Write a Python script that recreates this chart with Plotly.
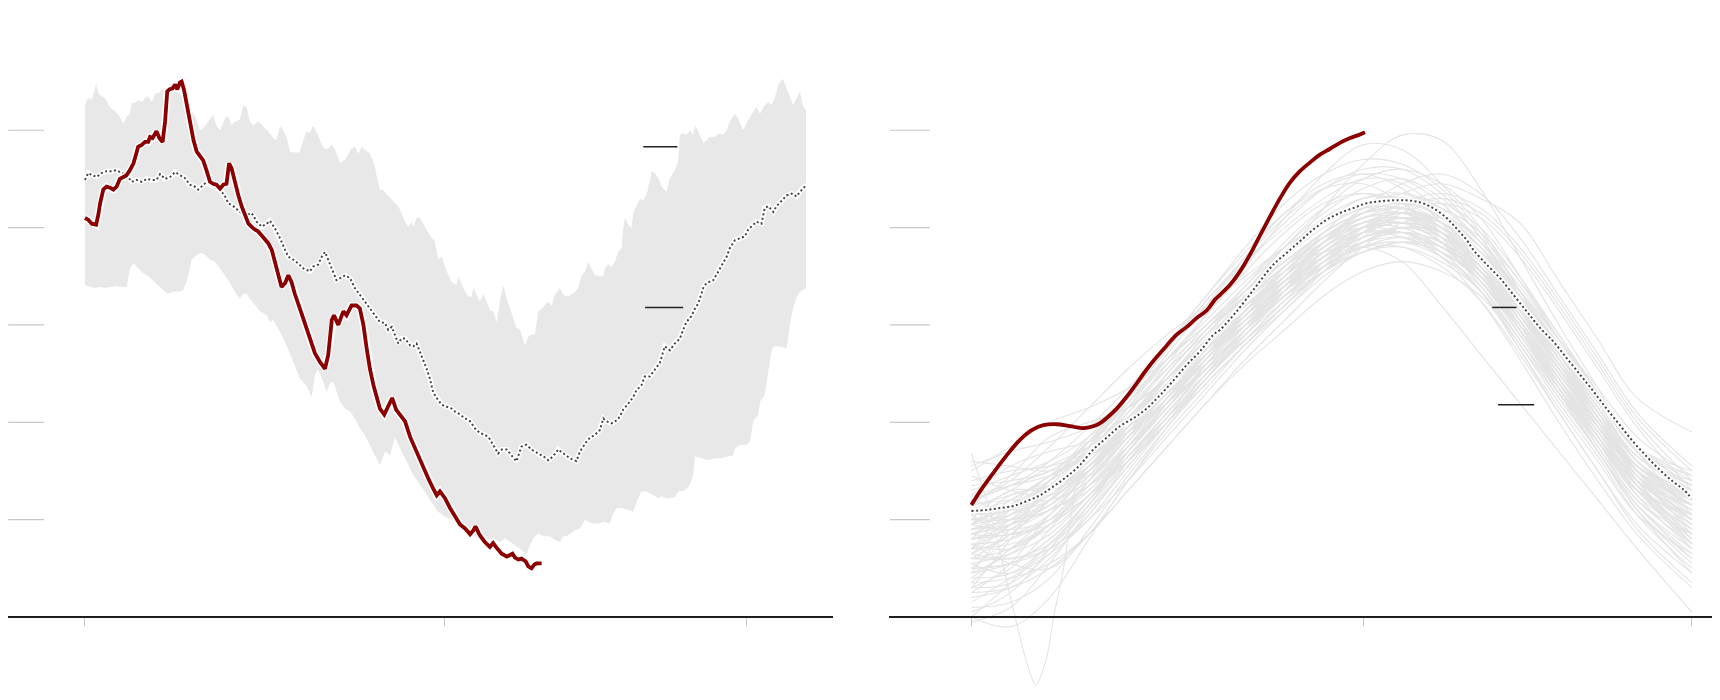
import plotly.graph_objects as go

# ---------------- LEFT PANEL DATA (day, value) ----------------
band_upper = [(0.0,5.26),(0.9,5.33),(1.9,5.31),(3.1,5.48),(3.7,5.38),(4.6,5.35),(5.6,5.33),(7.0,5.23),(7.9,5.21),(9.3,5.16),
 (10.7,5.07),(11.6,5.14),(12.5,5.17),(13.0,5.28),(13.9,5.28),(14.8,5.31),(15.8,5.29),(16.7,5.33),(17.6,5.35),(18.6,5.29),
 (19.5,5.38),(20.4,5.38),(21.3,5.41),(22.3,5.43),(23.2,5.43),(24.6,5.41),(26.4,5.38),(28.3,5.29),(30.2,5.17),(31.1,5.11),
 (32.0,5.00),(32.9,5.02),(34.3,5.09),(35.7,5.16),(36.6,5.05),(37.6,5.00),(39.0,5.12),(39.9,5.14),(40.8,5.05),(41.7,5.09),
 (43.1,5.11),(44.1,5.26),(45.0,5.23),(45.9,5.09),(46.9,5.05),(48.2,5.09),(49.6,5.04),(51.0,4.99),(52.4,4.92),(53.3,4.90),
 (54.3,5.04),(55.2,5.00),(56.1,4.93),(57.1,4.78),(58.9,4.77),(59.8,4.78),(60.8,4.90),(61.7,4.99),(62.6,4.97),(63.5,5.05),
 (64.9,4.95),(65.9,4.85),(66.8,4.81),(67.7,4.81),(68.7,4.85),(69.6,4.80),(71.0,4.66),(72.4,4.70),(74.2,4.81),(75.1,4.83),
 (76.1,4.76),(77.0,4.83),(77.9,4.80),(79.3,4.76),(80.3,4.68),(81.2,4.54),(82.1,4.39),(83.0,4.39),(84.0,4.34),(85.8,4.27),
 (87.2,4.22),(88.1,4.15),(89.1,4.06),(90.0,4.01),(90.9,4.06),(91.4,4.01),(92.3,4.10),(93.2,4.10),(94.2,4.04),(95.1,3.98),
 (96.0,3.92),(97.4,3.86),(98.3,3.68),(99.3,3.70),(100.7,3.55),(102.1,3.44),(103.4,3.41),(103.9,3.50),(104.8,3.43),(105.8,3.34),
 (106.7,3.29),(107.6,3.29),(108.1,3.38),(109.0,3.31),(109.9,3.24),(110.9,3.32),(111.8,3.24),(112.7,3.15),(113.6,3.14),(114.6,3.03),
 (115.5,3.24),(116.4,3.41),(117.4,3.27),(118.3,3.17),(119.2,3.07),(120.1,2.97),(121.1,2.95),(122.0,2.86),(122.5,2.79),(123.4,2.88),
 (124.3,2.90),(125.2,2.90),(126.2,3.14),(127.1,3.17),(128.0,3.20),(129.0,3.24),(129.9,3.20),(130.8,3.31),(132.2,3.38),(133.1,3.31),
 (134.5,3.29),(135.4,3.31),(136.4,3.34),(137.3,3.38),(138.2,3.51),(139.2,3.55),(140.1,3.65),(141.0,3.58),(141.9,3.51),(143.3,3.50),
 (144.3,3.50),(144.7,3.58),(145.6,3.62),(146.6,3.60),(147.5,3.65),(148.4,3.75),(149.4,3.79),(149.8,3.99),(150.3,4.10),(151.2,4.03),
 (152.1,3.99),(152.6,4.15),(153.5,4.23),(154.5,4.30),(155.4,4.28),(156.3,4.34),(157.2,4.47),(157.7,4.58),(158.6,4.56),(159.6,4.51),
 (160.5,4.42),(161.9,4.37),(162.8,4.51),(164.2,4.59),(165.1,4.68),(165.6,4.95),(166.5,4.97),(167.4,4.95),(168.4,5.00),(169.3,4.95),
 (169.8,5.05),(170.7,4.99),(172.1,4.87),(173.0,4.90),(173.9,4.93),(175.3,4.93),(176.7,4.97),(177.6,4.95),(178.6,5.00),(179.5,5.09),
 (180.9,5.17),(181.8,5.12),(183.2,5.00),(184.1,5.07),(185.1,5.14),(186.0,5.19),(186.9,5.24),(187.9,5.17),(188.8,5.24),(190.2,5.29),
 (191.1,5.26),(192.0,5.33),(193.0,5.47),(194.3,5.53),(195.3,5.43),(196.7,5.29),(197.1,5.26),(198.1,5.33),(199.0,5.40),(199.9,5.24),
 (200.7,5.21)]

band_lower = [(0.0,3.41),(1.4,3.39),(2.8,3.38),(4.2,3.39),(5.6,3.38),(7.0,3.39),(8.8,3.40),(10.7,3.39),(11.6,3.39),(12.5,3.58),
 (13.5,3.63),(14.8,3.58),(16.2,3.53),(17.6,3.50),(19.5,3.44),(20.9,3.39),(22.3,3.34),(23.2,3.32),(24.6,3.34),(26.4,3.34),
 (27.4,3.36),(28.8,3.51),(29.7,3.67),(31.1,3.72),(32.5,3.74),(33.4,3.72),(34.8,3.67),(36.2,3.65),(37.6,3.58),(39.0,3.51),
 (40.4,3.43),(41.7,3.34),(43.1,3.27),(44.1,3.32),(45.0,3.32),(45.9,3.27),(47.3,3.20),(48.7,3.14),(50.6,3.10),(51.5,3.03),
 (52.4,3.05),(54.3,2.93),(56.1,2.79),(58.0,2.62),(59.8,2.45),(61.7,2.37),(63.1,2.26),(64.0,2.49),(64.9,2.54),(66.3,2.42),
 (67.3,2.31),(68.2,2.40),(69.1,2.42),(70.0,2.31),(71.0,2.21),(72.4,2.14),(73.8,2.11),(75.1,2.04),(76.5,1.94),(77.9,1.87),
 (79.3,1.77),(80.7,1.66),(82.1,1.56),(83.5,1.70),(84.9,1.66),(86.3,1.85),(87.7,1.73),(89.5,1.60),(90.9,1.49),(92.8,1.39),
 (94.6,1.29),(96.5,1.18),(98.3,1.08),(100.2,1.03),(101.6,1.01),(103.0,0.98),(104.4,0.93),(106.2,0.88),(108.1,0.84),(109.9,0.79),
 (111.8,0.79),(113.6,0.81),(115.5,0.77),(116.9,0.81),(118.3,0.77),(119.7,0.74),(121.5,0.69),(122.9,0.64),(123.9,0.74),(124.8,0.81),
 (126.2,0.86),(127.1,0.84),(128.0,0.83),(129.4,0.83),(130.8,0.79),(132.2,0.77),(133.1,0.83),(134.1,0.83),(135.4,0.86),(136.4,0.89),
 (137.8,0.91),(139.2,1.00),(140.1,0.98),(141.5,0.96),(143.3,0.96),(144.3,0.98),(146.1,0.96),(147.0,1.06),(148.0,1.12),(149.4,1.12),
 (150.7,1.10),(152.6,1.08),(153.5,1.18),(154.9,1.29),(156.3,1.29),(158.2,1.25),(159.6,1.22),(160.5,1.24),(161.9,1.22),(164.2,1.23),
 (165.1,1.29),(167.0,1.30),(168.4,1.36),(169.3,1.46),(169.8,1.65),(171.6,1.63),(173.5,1.61),(175.3,1.63),(177.2,1.63),(179.0,1.65),
 (180.4,1.66),(180.9,1.73),(182.3,1.77),(184.1,1.77),(185.1,1.80),(186.0,2.01),(187.4,2.08),(187.9,2.21),(189.2,2.28),(189.7,2.42),
 (191.1,2.73),(191.6,2.78),(193.0,2.78),(195.3,2.76),(196.2,3.00),(197.1,3.17),(198.1,3.29),(199.0,3.34),(199.9,3.36),(200.7,3.38)]

median_left = [(0.0,4.49),(0.9,4.56),(1.9,4.54),(3.3,4.52),(4.6,4.56),(6.0,4.58),(7.4,4.58),(8.8,4.59),(10.2,4.56),(11.6,4.54),
 (13.0,4.47),(14.4,4.49),(15.8,4.47),(17.2,4.50),(18.6,4.49),(19.9,4.49),(20.9,4.55),(22.3,4.50),(23.7,4.52),(25.1,4.57),
 (26.4,4.54),(27.8,4.51),(29.2,4.44),(30.6,4.42),(31.5,4.39),(32.9,4.44),(33.9,4.47),(35.7,4.42),(37.6,4.39),(39.0,4.32),
 (39.9,4.25),(41.3,4.22),(43.1,4.16),(45.0,4.13),(46.4,4.15),(47.8,4.06),(49.2,4.01),(50.6,4.04),(51.5,4.07),(52.9,3.99),
 (54.3,3.89),(55.7,3.77),(56.6,3.70),(58.0,3.67),(59.4,3.63),(60.8,3.58),(62.6,3.55),(63.5,3.60),(64.9,3.62),(65.9,3.70),
 (66.8,3.75),(67.7,3.67),(69.1,3.53),(70.0,3.46),(71.0,3.48),(72.4,3.51),(73.8,3.48),(75.1,3.38),(76.5,3.31),(77.9,3.24),
 (79.3,3.17),(80.7,3.10),(82.1,3.03),(83.5,3.02),(84.4,2.95),(85.4,2.98),(86.3,2.90),(87.2,2.81),(88.1,2.86),(89.1,2.86),
 (90.5,2.79),(91.4,2.78),(92.3,2.81),(93.2,2.73),(94.2,2.64),(95.1,2.55),(96.0,2.45),(96.9,2.31),(97.9,2.25),(99.3,2.18),
 (100.7,2.16),(102.1,2.14),(103.0,2.11),(104.4,2.08),(105.8,2.04),(107.2,2.01),(108.5,1.94),(109.9,1.89),(111.3,1.87),(112.3,1.85),
 (113.6,1.77),(115.0,1.68),(116.0,1.72),(117.4,1.72),(118.7,1.66),(120.1,1.60),(121.5,1.75),(122.9,1.77),(124.3,1.72),(126.2,1.68),
 (127.6,1.65),(129.0,1.61),(130.3,1.65),(131.7,1.72),(133.1,1.68),(135.0,1.63),(136.8,1.60),(137.8,1.70),(139.2,1.78),(140.5,1.84),
 (141.9,1.87),(143.3,1.92),(144.3,2.04),(145.2,2.01),(146.6,1.99),(148.0,2.02),(148.9,2.06),(149.8,2.13),(151.2,2.19),(152.6,2.26),
 (153.5,2.33),(154.9,2.38),(155.8,2.47),(157.2,2.47),(158.6,2.54),(160.0,2.61),(161.4,2.78),(162.8,2.74),(164.2,2.81),(165.6,2.86),
 (166.5,2.95),(167.4,3.03),(168.8,3.09),(169.8,3.17),(170.7,3.22),(172.1,3.38),(173.0,3.43),(174.9,3.46),(176.3,3.55),(177.6,3.63),
 (178.6,3.70),(179.5,3.79),(180.9,3.87),(182.3,3.89),(183.7,3.91),(184.6,3.98),(186.0,4.03),(186.9,4.06),(188.3,4.04),(189.2,4.20),
 (190.2,4.22),(191.6,4.16),(192.5,4.22),(193.9,4.28),(195.3,4.33),(196.7,4.35),(198.1,4.32),(199.0,4.37),(199.9,4.40),(200.7,4.44)]

current_left = [(0.0,4.10),(0.9,4.08),(1.9,4.04),(3.1,4.03),(3.7,4.13),(4.2,4.25),(5.1,4.39),(6.0,4.42),(7.0,4.41),(7.9,4.39),
 (8.8,4.42),(9.7,4.50),(10.7,4.52),(11.6,4.54),(12.5,4.59),(13.5,4.66),(14.2,4.75),(14.8,4.83),(15.8,4.85),(16.7,4.88),
 (17.6,4.88),(18.1,4.93),(18.8,4.92),(19.5,4.96),(19.9,4.99),(20.7,4.92),(21.6,4.88),(22.3,5.09),(22.9,5.40),(23.5,5.42),
 (24.4,5.43),(25.1,5.47),(25.7,5.42),(26.4,5.49),(26.9,5.50),(27.6,5.41),(28.3,5.26),(29.2,5.09),(30.2,4.90),(31.1,4.78),
 (32.0,4.73),(32.9,4.69),(33.9,4.58),(34.8,4.47),(35.7,4.45),(36.6,4.44),(37.6,4.40),(38.5,4.44),(39.4,4.45),(40.1,4.66),
 (40.8,4.61),(41.7,4.47),(42.7,4.33),(43.6,4.22),(44.5,4.13),(45.5,4.04),(46.9,3.99),(48.2,3.96),(49.6,3.90),(51.0,3.84),
 (52.0,3.77),(52.9,3.65),(53.8,3.53),(54.7,3.39),(55.7,3.43),(56.6,3.51),(57.5,3.44),(58.4,3.32),(59.8,3.17),(61.2,3.02),
 (62.6,2.85),(64.0,2.71),(65.4,2.62),(66.8,2.55),(67.7,2.69),(68.7,3.05),(69.3,3.10),(70.5,3.00),(71.9,3.14),(72.8,3.10),
 (74.2,3.20),(75.6,3.20),(76.5,3.17),(77.5,3.00),(78.4,2.76),(79.3,2.55),(80.3,2.38),(81.2,2.25),(82.1,2.14),(83.3,2.08),
 (84.4,2.16),(85.5,2.25),(86.6,2.13),(87.7,2.08),(89.1,2.01),(90.5,1.85),(91.4,1.77),(92.8,1.66),(94.2,1.54),(95.6,1.42),
 (96.9,1.32),(97.9,1.25),(98.8,1.29),(100.2,1.22),(101.6,1.12),(103.0,1.03),(104.4,0.95),(105.8,0.91),(107.2,0.85),(108.1,0.89),
 (108.7,0.93),(109.9,0.84),(111.3,0.77),(112.7,0.72),(113.6,0.76),(114.6,0.71),(116.0,0.65),(117.4,0.62),(118.3,0.64),(119.0,0.65),
 (119.7,0.61),(120.6,0.59),(121.5,0.60),(122.0,0.59),(122.7,0.57),(123.4,0.52),(124.3,0.50),(125.1,0.54),(125.7,0.55),(127.1,0.55)]

left_labels_lines = [((155.4, 164.9), 4.83), ((155.9, 166.5), 3.18)]

# ---------------- RIGHT PANEL DATA ----------------
current_right = [(0,1.15),(2.2,1.29),(5.6,1.48),(9.0,1.66),(12.4,1.82),(15.4,1.92),(18.4,1.97),(21.8,1.98),(25.2,1.96),(28.6,1.94),
 (31.1,1.96),(32.8,1.99),(35.0,2.06),(37.1,2.14),(39.6,2.26),(42.2,2.40),(44.7,2.54),(47.3,2.67),(49.9,2.79),(52.4,2.90),
 (55.0,2.98),(57.5,3.07),(60.1,3.15),(62.2,3.26),(63.5,3.31),(66.0,3.41),(68.6,3.55),(71.1,3.72),(73.7,3.92),(76.2,4.11),
 (78.8,4.30),(81.3,4.46),(83.9,4.58),(86.5,4.67),(89.0,4.75),(91.6,4.81),(94.1,4.87),(96.7,4.92),(98.8,4.95),(100.5,4.98)]

mean_right = [(0,1.09),(3.9,1.10),(7.3,1.12),(10.7,1.14),(14.1,1.19),(17.5,1.25),(20.9,1.34),(24.3,1.44),(27.7,1.56),(31.1,1.72),
 (34.5,1.84),(37.9,1.96),(41.3,2.04),(44.7,2.14),(48.2,2.28),(51.6,2.43),(55.0,2.59),(58.4,2.73),(61.8,2.90),(63.5,2.95),
 (66.9,3.10),(70.3,3.27),(73.7,3.45),(77.1,3.62),(80.5,3.74),(83.9,3.86),(87.3,3.98),(90.7,4.08),(94.1,4.15),(97.5,4.20),
 (100.9,4.25),(104.3,4.27),(107.7,4.28),(111.1,4.28),(114.5,4.26),(117.9,4.20),(121.3,4.10),(123.9,3.99),(126.5,3.87),(128.2,3.77),
 (131.6,3.62),(135.0,3.48),(138.4,3.31),(141.8,3.14),(145.2,2.97),(148.6,2.83),(152.0,2.66),(155.4,2.49),(158.8,2.32),(162.2,2.14),
 (165.6,1.97),(169.0,1.80),(172.4,1.65),(175.8,1.51),(179.2,1.39),(181.8,1.31),(183.9,1.22)]

past_days = [0,10,20,30,40,50,60,70,80,90,100,110,120,130,140,150,160,170,184]
past_years = [
 [0.95,1.05,1.25,1.60,2.00,2.40,2.80,3.15,3.50,3.80,4.00,4.05,3.90,3.60,3.10,2.55,2.00,1.45,1.10],
 [0.60,0.70,0.95,1.35,1.80,2.25,2.70,3.05,3.40,3.70,3.90,3.95,3.80,3.45,2.90,2.35,1.80,1.25,0.85],
 [1.30,1.45,1.60,1.85,2.20,2.60,2.95,3.30,3.65,3.95,4.15,4.20,4.05,3.75,3.25,2.70,2.15,1.65,1.35],
 [0.40,0.45,0.75,1.20,1.70,2.15,2.55,2.95,3.30,3.60,3.85,3.95,3.85,3.55,3.00,2.40,1.85,1.30,0.90],
 [1.10,1.30,1.55,1.75,2.05,2.45,2.90,3.30,3.70,4.05,4.30,4.35,4.15,3.80,3.25,2.65,2.05,1.50,1.20],
 [0.75,0.80,1.00,1.40,1.85,2.30,2.70,3.00,3.30,3.60,3.80,3.85,3.70,3.40,2.85,2.25,1.70,1.15,0.70],
 [1.55,1.70,1.80,1.95,2.25,2.65,3.00,3.35,3.70,4.00,4.20,4.30,4.25,4.00,3.50,2.90,2.30,1.75,1.45],
 [0.20,0.30,0.60,1.05,1.55,2.00,2.45,2.85,3.25,3.55,3.75,3.80,3.65,3.35,2.80,2.20,1.65,1.05,0.50],
 [0.95,1.20,1.45,1.70,2.00,2.35,2.75,3.15,3.60,3.95,4.15,4.15,3.95,3.60,3.05,2.50,1.95,1.40,1.05],
 [0.85,0.85,1.05,1.50,1.95,2.35,2.70,3.05,3.35,3.65,3.85,3.95,3.85,3.55,3.05,2.45,1.90,1.35,1.00],
 [1.20,1.35,1.50,1.75,2.10,2.55,3.00,3.40,3.80,4.15,4.40,4.50,4.30,3.90,3.30,2.70,2.15,1.55,1.25],
 [0.50,0.55,0.80,1.20,1.65,2.10,2.55,2.95,3.35,3.70,3.95,4.05,3.95,3.70,3.15,2.55,1.95,1.35,0.90],
 [1.00,1.05,1.30,1.70,2.15,2.55,2.90,3.20,3.45,3.70,3.90,3.95,3.75,3.35,2.75,2.15,1.60,1.05,0.65],
 [0.65,0.95,1.30,1.55,1.85,2.20,2.65,3.10,3.55,3.90,4.10,4.10,3.90,3.55,3.05,2.50,2.00,1.50,1.25],
 [1.40,1.50,1.55,1.70,2.00,2.40,2.85,3.25,3.60,3.90,4.10,4.15,4.00,3.70,3.20,2.65,2.10,1.55,1.15],
 [0.30,0.50,0.90,1.40,1.90,2.35,2.75,3.10,3.40,3.65,3.80,3.80,3.60,3.25,2.70,2.10,1.50,0.90,0.35],
 [1.05,1.15,1.35,1.65,2.05,2.50,2.95,3.35,3.75,4.05,4.25,4.25,4.05,3.70,3.15,2.55,2.00,1.45,1.15],
 [0.70,0.75,0.90,1.25,1.75,2.25,2.70,3.05,3.40,3.75,4.00,4.10,4.00,3.70,3.20,2.60,2.00,1.45,1.10],
 [-0.05,0.10,0.55,1.10,1.60,2.05,2.50,2.90,3.25,3.55,3.80,3.90,3.80,3.50,2.95,2.35,1.75,1.15,0.65],
 [1.25,1.35,1.45,1.65,2.00,2.45,2.90,3.35,3.80,4.20,4.50,4.60,4.45,4.10,3.50,2.85,2.25,1.70,1.45],
 [0.90,1.00,1.15,1.45,1.85,2.25,2.65,3.00,3.35,3.65,3.90,4.00,3.90,3.65,3.20,2.70,2.20,1.65,1.40],
 [0.55,0.65,0.85,1.25,1.70,2.15,2.60,3.00,3.40,3.80,4.05,4.15,4.05,3.80,3.30,2.75,2.20,1.60,1.20],
 [0.80,0.95,1.20,1.55,1.95,2.40,2.85,3.25,3.55,3.75,3.80,3.65,3.20,2.70,2.20,1.70,1.20,0.70,0.05],
 [1.00,1.10,1.30,1.65,2.05,2.45,2.85,3.25,3.70,4.20,4.65,4.95,4.90,4.40,3.70,3.00,2.35,1.70,1.35],
 [1.15,1.25,1.40,1.70,2.10,2.60,3.10,3.60,4.10,4.55,4.85,4.80,4.45,4.00,3.35,2.70,2.10,1.55,1.30],
 [0.35,0.40,0.55,0.85,1.30,1.75,2.20,2.60,2.95,3.30,3.55,3.65,3.55,3.30,2.80,2.25,1.70,1.10,0.60],
 [0.80,0.90,1.10,1.50,1.95,2.40,2.80,3.15,3.50,3.85,4.05,4.10,3.95,3.60,3.05,2.40,1.80,1.20,0.85],
 [1.35,1.40,1.50,1.80,2.20,2.65,3.05,3.45,3.80,4.05,4.25,4.30,4.20,3.95,3.45,2.85,2.30,1.75,1.50],
 [0.10,0.15,0.40,0.90,1.45,1.95,2.40,2.80,3.15,3.50,3.75,3.85,3.75,3.45,2.90,2.30,1.70,1.10,0.55],
 [1.20,1.40,1.75,2.15,2.55,2.90,3.20,3.50,3.80,4.05,4.20,4.20,4.00,3.65,3.10,2.50,1.95,1.40,1.15],
 [1.50,1.75,2.00,2.15,2.35,2.65,3.00,3.35,3.65,3.90,4.05,4.05,3.85,3.50,2.95,2.35,1.80,1.30,1.05],
 [0.90,1.00,1.20,1.55,1.95,2.35,2.75,3.15,3.55,3.90,4.15,4.35,4.45,4.30,4.05,3.45,2.85,2.25,1.90],
 [0.45,0.90,1.10,1.30,1.80,2.30,2.60,2.90,3.35,3.75,3.95,3.90,3.70,3.35,2.85,2.30,1.80,1.35,0.95],
 [1.05,0.85,1.00,1.45,1.90,2.20,2.55,3.00,3.45,3.80,4.05,4.15,4.10,3.80,3.20,2.55,2.00,1.55,1.30],
 [0.25,0.55,1.05,1.35,1.60,2.05,2.60,3.05,3.40,3.60,3.75,3.85,3.80,3.50,2.95,2.40,1.90,1.40,0.80],
 [0.70,1.10,1.35,1.45,1.75,2.20,2.70,3.15,3.50,3.85,4.10,4.20,4.00,3.55,2.95,2.40,1.95,1.50,1.15],
 [1.45,1.30,1.25,1.50,1.95,2.45,2.85,3.20,3.55,3.90,4.15,4.25,4.10,3.75,3.30,2.80,2.25,1.70,1.30],
 [0.00,0.35,0.75,1.15,1.70,2.20,2.55,2.85,3.20,3.55,3.85,4.00,3.95,3.65,3.10,2.50,1.95,1.45,1.00],
 [0.85,1.00,1.40,1.80,2.05,2.30,2.65,3.05,3.45,3.75,3.95,4.05,3.95,3.60,3.05,2.45,1.85,1.30,0.75],
 [0.60,0.60,0.70,1.05,1.60,2.10,2.50,2.85,3.20,3.60,3.95,4.10,4.05,3.75,3.25,2.70,2.10,1.50,1.00],
 [1.15,1.20,1.20,1.40,1.85,2.35,2.80,3.20,3.50,3.80,4.00,4.05,3.85,3.45,2.90,2.35,1.85,1.40,1.05],
 [0.35,0.70,0.95,1.25,1.65,2.05,2.45,2.90,3.35,3.75,4.00,4.00,3.80,3.45,3.00,2.55,2.05,1.50,0.85],
 [0.95,1.25,1.35,1.50,1.90,2.40,2.85,3.20,3.50,3.85,4.15,4.25,4.15,3.85,3.40,2.85,2.30,1.70,1.20],
 [0.55,0.45,0.70,1.15,1.60,2.00,2.45,2.95,3.40,3.70,3.90,4.00,3.95,3.70,3.20,2.60,2.00,1.40,0.80],
 [1.25,1.55,1.70,1.80,2.00,2.35,2.75,3.10,3.40,3.70,3.95,4.05,3.95,3.60,3.10,2.55,2.00,1.45,0.95],
 [0.15,0.40,0.65,1.00,1.50,2.00,2.50,2.95,3.30,3.60,3.85,3.95,3.85,3.55,3.05,2.45,1.85,1.25,0.70],
 [0.75,0.70,0.95,1.35,1.75,2.15,2.55,2.95,3.40,3.85,4.20,4.35,4.20,3.85,3.30,2.70,2.15,1.65,1.30],
 [1.00,1.30,1.30,1.50,1.95,2.50,2.95,3.30,3.60,3.90,4.10,4.15,4.00,3.70,3.15,2.55,1.95,1.40,1.00],
 [0.45,0.65,0.95,1.40,1.85,2.25,2.60,2.95,3.30,3.65,3.90,3.95,3.85,3.60,3.15,2.60,2.05,1.55,1.15],
 [0.90,0.95,1.10,1.35,1.70,2.15,2.60,3.00,3.35,3.60,3.80,3.85,3.75,3.50,3.00,2.40,1.85,1.35,0.95],
 [0.65,0.85,1.20,1.60,1.95,2.30,2.70,3.10,3.50,3.95,4.25,4.30,4.10,3.70,3.20,2.65,2.05,1.50,1.10],
 [1.20,1.10,1.20,1.55,2.00,2.45,2.85,3.25,3.60,3.85,4.00,3.95,3.80,3.55,3.15,2.65,2.10,1.60,1.25],
 [0.30,0.35,0.65,1.15,1.70,2.20,2.65,3.00,3.30,3.55,3.75,3.85,3.80,3.55,3.00,2.35,1.70,1.10,0.45],
 [0.80,1.15,1.45,1.65,1.90,2.20,2.65,3.15,3.60,3.95,4.15,4.20,4.05,3.70,3.15,2.55,2.00,1.50,1.15],
 [0.50,0.80,1.00,1.25,1.70,2.20,2.70,3.10,3.45,3.80,4.05,4.10,3.90,3.55,3.10,2.60,2.10,1.60,1.20],
 [1.10,1.00,1.15,1.55,2.00,2.40,2.75,3.05,3.35,3.70,4.00,4.15,4.05,3.75,3.25,2.65,2.05,1.45,0.90],
 [0.05,0.25,0.70,1.20,1.65,2.05,2.50,2.95,3.35,3.70,3.95,4.05,3.95,3.65,3.15,2.60,2.05,1.50,1.00],
 [0.95,0.90,1.00,1.30,1.75,2.25,2.75,3.20,3.55,3.85,4.05,4.10,3.95,3.60,3.05,2.50,2.00,1.55,1.25],
 [0.70,1.00,1.25,1.55,1.90,2.30,2.70,3.05,3.40,3.75,4.00,4.10,4.00,3.75,3.35,2.85,2.30,1.75,1.35],
 [0.85,1.05,1.35,1.75,2.20,2.70,3.20,3.70,4.15,4.45,4.55,4.40,4.05,3.55,3.00,2.45,1.90,1.40,1.00],
 [0.60,0.85,1.20,1.65,2.15,2.65,3.10,3.55,3.95,4.25,4.35,4.20,3.85,3.40,2.85,2.30,1.80,1.30,0.80],
 [1.10,1.20,1.45,1.85,2.30,2.80,3.30,3.75,4.15,4.40,4.45,4.25,3.90,3.45,2.95,2.45,1.95,1.50,1.15],
 [0.40,0.70,1.05,1.50,2.00,2.50,2.95,3.40,3.85,4.20,4.35,4.25,3.95,3.50,2.95,2.40,1.85,1.35,0.75],
 [0.95,1.15,1.40,1.80,2.25,2.75,3.25,3.65,4.00,4.30,4.50,4.45,4.15,3.70,3.15,2.60,2.05,1.55,1.20],
 [0.50,0.55,0.70,1.00,1.40,1.85,2.30,2.75,3.15,3.55,3.90,4.15,4.25,4.10,3.70,3.15,2.55,1.95,1.30],
 [0.80,0.85,0.95,1.25,1.60,2.00,2.45,2.85,3.25,3.65,4.00,4.25,4.35,4.20,3.80,3.25,2.65,2.05,1.50],
 [0.25,0.30,0.50,0.85,1.30,1.75,2.20,2.65,3.05,3.45,3.80,4.05,4.10,3.90,3.45,2.90,2.30,1.70,1.05],
 [1.00,1.00,1.10,1.35,1.75,2.20,2.65,3.05,3.45,3.85,4.20,4.45,4.55,4.35,3.90,3.30,2.70,2.10,1.55],
 [0.65,0.60,0.75,1.10,1.55,2.00,2.40,2.80,3.20,3.60,3.95,4.20,4.30,4.15,3.75,3.20,2.60,2.00,1.40],
 [0.00,-0.10,0.20,0.80,1.40,1.90,2.35,2.80,3.20,3.55,3.85,4.00,3.95,3.70,3.20,2.60,2.00,1.40,0.75],
 [1.60,1.55,1.50,1.65,2.00,2.45,2.90,3.30,3.65,3.95,4.15,4.20,4.05,3.75,3.30,2.80,2.25,1.75,1.40],
 [0.30,0.80,1.40,1.70,1.95,2.30,2.70,3.10,3.50,3.85,4.05,4.05,3.85,3.50,3.00,2.45,1.90,1.35,0.85],
 [0.75,0.55,0.50,0.85,1.40,1.95,2.45,2.90,3.30,3.65,3.95,4.05,3.95,3.65,3.15,2.55,1.95,1.35,0.70],
 [1.15,1.45,1.85,2.00,2.15,2.45,2.85,3.30,3.75,4.10,4.30,4.30,4.10,3.80,3.35,2.85,2.35,1.85,1.45],
 [0.85,0.95,1.15,1.50,1.90,2.30,2.70,3.10,3.45,3.75,3.95,3.95,3.70,3.25,2.65,2.00,1.40,0.85,0.30],
 [0.45,0.55,0.80,1.20,1.65,2.10,2.55,2.95,3.30,3.65,3.90,3.95,3.75,3.35,2.75,2.10,1.50,0.95,0.45],
 [1.05,1.10,1.30,1.65,2.05,2.45,2.85,3.25,3.60,3.90,4.10,4.15,3.95,3.55,2.95,2.30,1.70,1.15,0.60],
 [0.90,1.10,1.40,1.80,2.30,2.80,3.30,3.80,4.25,4.55,4.70,4.65,4.40,3.95,3.35,2.75,2.15,1.60,1.15],
 [0.70,0.95,1.30,1.75,2.25,2.75,3.20,3.65,4.05,4.40,4.60,4.60,4.35,3.90,3.30,2.65,2.05,1.50,1.05],
 [1.20,1.35,1.60,1.95,2.35,2.80,3.25,3.70,4.10,4.40,4.55,4.50,4.25,3.85,3.35,2.80,2.25,1.75,1.35],
]
outlier_year = [(0,1.68),(5,1.05),(10,0.20),(14,-0.45),(16.4,-0.70),(19,-0.45),(21,0.00),(23.4,0.47),(25.5,1.05),(27.6,1.52),
 (32,1.85),(40,2.15),(50,2.45),(60,2.80),(70,3.15),(80,3.45),(90,3.70),(100,3.85),(110,3.90),(120,3.75),(130,3.45),
 (140,2.95),(150,2.35),(160,1.75),(170,1.20),(184,0.75)]

right_labels_lines = [((133.0, 139.2), 3.18), ((134.5, 143.7), 2.18)]

grid_values = [1, 2, 3, 4, 5]
tick_days = [0, 100, 184]

RED = "#8b0000"
DOT = "#444444"
BAND = "#e8e8e8"
SPAG = "#e4e4e4"

def xy(pairs):
    return [p[0] for p in pairs], [p[1] for p in pairs]

fig = go.Figure()

# ---- left panel ----
ux, uy = xy(band_upper)
lx, ly = xy(band_lower)
fig.add_trace(go.Scatter(x=ux + lx[::-1], y=uy + ly[::-1], fill="toself", fillcolor=BAND,
                         line=dict(width=0), mode="lines", hoverinfo="skip", xaxis="x", yaxis="y"))
mx, my = xy(median_left)
fig.add_trace(go.Scatter(x=mx, y=my, mode="lines", line=dict(color="white", width=5), xaxis="x", yaxis="y"))
fig.add_trace(go.Scatter(x=mx, y=my, mode="lines", line=dict(color=DOT, width=2, dash="2px,2.5px"), xaxis="x", yaxis="y"))
cx, cy = xy(current_left)
fig.add_trace(go.Scatter(x=cx, y=cy, mode="lines", line=dict(color="white", width=7), xaxis="x", yaxis="y"))
fig.add_trace(go.Scatter(x=cx, y=cy, mode="lines", line=dict(color=RED, width=3.8), xaxis="x", yaxis="y"))

# ---- right panel ----
for yr in past_years:
    fig.add_trace(go.Scatter(x=past_days, y=yr, mode="lines", line=dict(color=SPAG, width=1.1, shape="spline", smoothing=1.0),
                             xaxis="x2", yaxis="y2", hoverinfo="skip"))
ox, oy = xy(outlier_year)
fig.add_trace(go.Scatter(x=ox, y=oy, mode="lines", line=dict(color=SPAG, width=1.1, shape="spline", smoothing=0.8),
                         xaxis="x2", yaxis="y2", hoverinfo="skip"))
rx, ry = xy(mean_right)
fig.add_trace(go.Scatter(x=rx, y=ry, mode="lines", line=dict(color="white", width=5, shape="spline"), xaxis="x2", yaxis="y2"))
fig.add_trace(go.Scatter(x=rx, y=ry, mode="lines", line=dict(color=DOT, width=2, dash="2px,2.5px", shape="spline"), xaxis="x2", yaxis="y2"))
qx, qy = xy(current_right)
fig.add_trace(go.Scatter(x=qx, y=qy, mode="lines", line=dict(color=RED, width=3.8, shape="spline"), xaxis="x2", yaxis="y2"))

shapes = []
for g in grid_values:
    shapes.append(dict(type="line", xref="x", yref="y", x0=-21.4, x1=-11.4, y0=g, y1=g, line=dict(color="#c8c8c8", width=1.2)))
    shapes.append(dict(type="line", xref="x2", yref="y2", x0=-20.8, x1=-10.6, y0=g, y1=g, line=dict(color="#c8c8c8", width=1.2)))
for (x0, x1), yv in left_labels_lines:
    shapes.append(dict(type="line", xref="x", yref="y", x0=x0, x1=x1, y0=yv, y1=yv, line=dict(color="#222222", width=1.5)))
for (x0, x1), yv in right_labels_lines:
    shapes.append(dict(type="line", xref="x2", yref="y2", x0=x0, x1=x1, y0=yv, y1=yv, line=dict(color="#222222", width=1.5)))

axis_common = dict(showgrid=False, zeroline=False, showline=True, linecolor="#1e1e1e", linewidth=2.2,
                   ticks="outside", ticklen=8, tickwidth=1, tickcolor="#c8c8c8", tickvals=tick_days,
                   showticklabels=False, anchor="free", position=91/700)
yrange = [-91/97.35, 609/97.35]
fig.update_layout(
    width=1720, height=700, margin=dict(l=0, r=0, t=0, b=0),
    paper_bgcolor="white", plot_bgcolor="white", showlegend=False,
    xaxis=dict(domain=[0, 824.7/1720], range=[-21.43, 208.13], **axis_common),
    xaxis2=dict(domain=[880.5/1720, 1712/1720], range=[-21.17, 191.16], **axis_common),
    yaxis=dict(domain=[0, 1], range=yrange, visible=False, anchor="x"),
    yaxis2=dict(domain=[0, 1], range=yrange, visible=False, anchor="x2"),
    shapes=shapes,
)
fig.write_html("out.html")
